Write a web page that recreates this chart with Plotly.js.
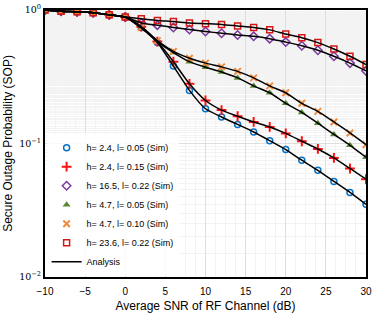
<!DOCTYPE html>
<html><head><meta charset="utf-8">
<script src="https://cdn.plot.ly/plotly-3.0.1.min.js"></script>
<style>html,body{margin:0;padding:0;background:#fff}#chart{width:374px;height:318px}</style>
</head><body><div id="chart"></div>
<script>
const snr = [-10,-8,-6,-4,-2,0,2,4,6,8,10,12,14,16,18,20,22,24,26,28,30];
const sopH24L005  = [1.0,0.98,0.97,0.955,0.92,0.885,0.74,0.57,0.38,0.25,0.182,0.158,0.139,0.122,0.105,0.090,0.075,0.063,0.052,0.043,0.035];
const sopH24L015  = [1.0,0.98,0.97,0.955,0.92,0.885,0.75,0.58,0.41,0.28,0.21,0.178,0.16,0.145,0.133,0.119,0.104,0.091,0.078,0.065,0.054];
const sopH165L022 = [1.0,0.98,0.97,0.955,0.92,0.885,0.80,0.77,0.74,0.715,0.69,0.67,0.65,0.635,0.61,0.575,0.54,0.50,0.45,0.40,0.35];
const sopH47L005  = [1.0,0.98,0.97,0.955,0.92,0.885,0.73,0.58,0.48,0.41,0.372,0.343,0.31,0.27,0.24,0.20,0.171,0.142,0.117,0.097,0.079];
const sopH47L010  = [1.0,0.98,0.97,0.955,0.92,0.885,0.74,0.59,0.49,0.435,0.40,0.375,0.347,0.31,0.27,0.24,0.20,0.174,0.145,0.12,0.098];
const sopH236L022 = [1.0,0.98,0.97,0.955,0.92,0.885,0.86,0.835,0.82,0.80,0.79,0.78,0.76,0.74,0.71,0.66,0.62,0.57,0.51,0.45,0.39];
const seriesNames = ['h= 2.4, l= 0.05 (Sim)','h= 2.4, l= 0.15 (Sim)','h= 16.5, l= 0.22 (Sim)','h= 4.7, l= 0.05 (Sim)','h= 4.7, l= 0.10 (Sim)','h= 23.6, l= 0.22 (Sim)'];
const yTickVals = [0.01, 0.1, 1];
const yTickText = ['10<sup>\u22122</sup>','10<sup>\u22121</sup>','10<sup>0</sup>'];

const seriesY = [sopH24L005,sopH24L015,sopH165L022,sopH47L005,sopH47L010,sopH236L022];
const styles = [
  {symbol:'circle-open', color:'#0a72c4', size:6, lw:1.5},
  {symbol:'cross-thin-open', color:'#ff1010', size:7, lw:2},
  {symbol:'diamond-open', color:'#7b3a9e', size:6.5, lw:1.5},
  {symbol:'triangle-up', color:'#5a8a30', size:7, lw:0},
  {symbol:'x-thin-open', color:'#f08a3c', size:6.5, lw:2},
  {symbol:'square-open', color:'#d41818', size:6, lw:1.5}
];
const traces = [];
seriesY.forEach((y,i)=>{
  const s = styles[i];
  traces.push({x:snr, y:y, type:'scatter', mode:'markers', name:seriesNames[i],
    marker:{symbol:s.symbol, size:s.size, color:s.color, line:{color:s.color, width:s.lw}}});
});
seriesY.forEach((y,i)=>{
  traces.push({x:snr, y:y, type:'scatter', mode:'lines', name:'Analysis', legendgroup:'ana',
    showlegend:i===0, line:{color:'#000', width:1.5, shape:'spline', smoothing:0.6}});
});

const layout = {
  width:374, height:318,
  margin:{l:45, r:8, t:10, b:41},
  paper_bgcolor:'#fff', plot_bgcolor:'#fff',
  font:{family:'Liberation Sans, Arial, sans-serif', size:10, color:'#000'},
  showlegend:true,
  legend:{x:0.005, y:0.003, xanchor:'left', yanchor:'bottom', bgcolor:'rgba(255,255,255,0.85)',
    borderwidth:0, font:{size:9}, itemwidth:30, tracegroupgap:0},
  xaxis:{range:[-10,30], tickvals:[-10,-5,0,5,10,15,20,25,30], ticks:'', showline:true, linecolor:'#000', linewidth:2, mirror:true,
    showgrid:true, gridcolor:'#dedede', gridwidth:1, zeroline:false,
    minor:{dtick:1.25, showgrid:true, gridcolor:'#f3f3f3', gridwidth:1},
    tickfont:{size:10}, ticklabelstandoff:4,
    title:{text:'Average SNR of RF Channel (dB)', font:{size:12}, standoff:6}},
  yaxis:{type:'log', range:[-2,0], tickvals:yTickVals, ticktext:yTickText, ticks:'', showline:true, linecolor:'#000', linewidth:2, mirror:true,
    showgrid:true, gridcolor:'#dedede', gridwidth:1, zeroline:false,
    minor:{showgrid:true, gridcolor:'#f3f3f3', gridwidth:1},
    tickfont:{family:'DejaVu Serif, serif', size:9.5},
    title:{text:'Secure Outage Probability (SOP)', font:{size:12}, standoff:4}}
};
Plotly.newPlot('chart', traces, layout, {staticPlot:true, displayModeBar:false});
</script></body></html>
